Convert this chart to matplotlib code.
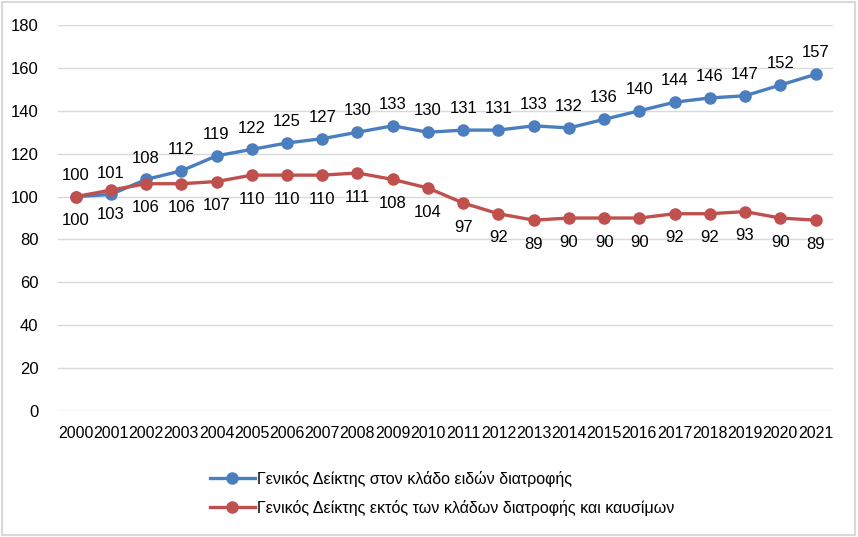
import matplotlib.pyplot as plt
from matplotlib.patches import Rectangle

plt.rcParams["font.family"] = ["Liberation Sans", "DejaVu Sans"]

years = [str(y) for y in range(2000, 2022)]
food = [100, 101, 108, 112, 119, 122, 125, 127, 130, 133, 130, 131, 131, 133, 132,
        136, 140, 144, 146, 147, 152, 157]
non_food = [100, 103, 106, 106, 107, 110, 110, 110, 111, 108, 104, 97, 92, 89, 90,
            90, 90, 92, 92, 93, 90, 89]
food_label = "Γενικός Δείκτης στον κλάδο ειδών διατροφής"
non_food_label = "Γενικός Δείκτης εκτός των κλάδων διατροφής και καυσίμων"

BLUE = "#4a7ebf"
RED = "#c0504d"

fig = plt.figure(figsize=(8.58, 5.37), dpi=100)
ax = fig.add_axes([0.0676, 0.2346, 0.9034, 0.7188])

x = list(range(len(years)))
ax.plot(x, food, color=BLUE, lw=2.4, marker="o", ms=8, label=food_label, zorder=3)
ax.plot(x, non_food, color=RED, lw=2.4, marker="o", ms=8, label=non_food_label, zorder=4)

for i, v in enumerate(food):
    ax.annotate(str(v), (i, v), xytext=(0, 10), textcoords="offset points",
                ha="center", va="bottom", fontsize=12)
for i, v in enumerate(non_food):
    ax.annotate(str(v), (i, v), xytext=(0, -12), textcoords="offset points",
                ha="center", va="top", fontsize=12)

ax.set_xlim(-0.5, len(years) - 0.5)
ax.set_ylim(0, 180)
ax.set_yticks(range(0, 181, 20))
ax.set_xticks(x)
ax.set_xticklabels(years, fontsize=11.5)
ax.tick_params(axis="y", labelsize=12, length=0, pad=14)
ax.tick_params(axis="x", length=0, pad=11)
ax.grid(axis="y", color="#d9d9d9", lw=1)
ax.set_axisbelow(True)
for s in ax.spines.values():
    s.set_visible(False)

fig.legend(loc="upper left", bbox_to_anchor=(0.228, 0.15), frameon=False,
           fontsize=11.5, handlelength=2.8, handletextpad=0.15, labelspacing=0.8)

fig.patches.append(Rectangle((0.002, 0.003), 0.995, 0.993, transform=fig.transFigure,
                             fill=False, edgecolor="#d9d9d9", lw=1.5))

fig.savefig("out.png", dpi=100)
